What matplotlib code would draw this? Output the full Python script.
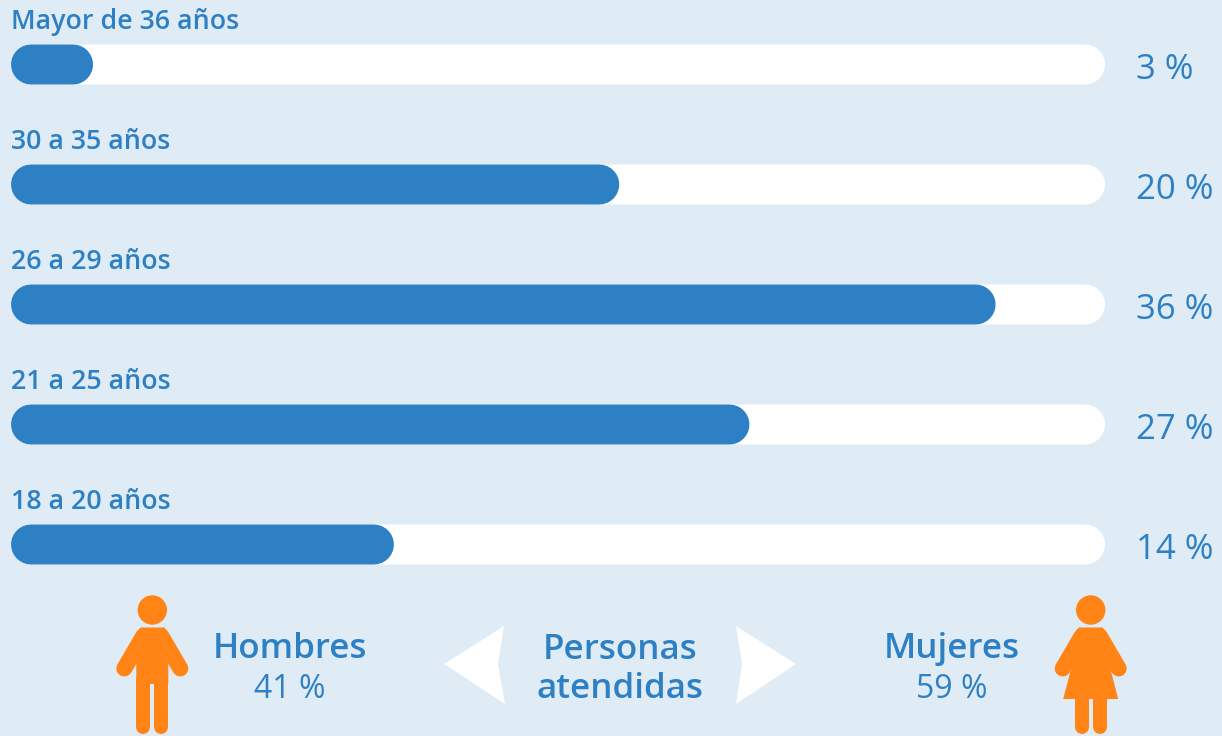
import matplotlib
matplotlib.use("Agg")
import matplotlib.pyplot as plt
from matplotlib.patches import Polygon, Circle

W, H = 1222, 736
BG = "#DFEBF5"; BLUE = "#2E80C4"; ORANGE = "#FF8415"
plt.rcParams['font.family'] = ['Open Sans', 'DejaVu Sans']

age_groups = ["Mayor de 36 años", "30 a 35 años", "26 a 29 años", "21 a 25 años", "18 a 20 años"]
age_percent = [3, 20, 36, 27, 14]
# Bar length as drawn in the source, as a share of the white track (not linear in the labels)
bar_fill = [7.5, 55.6, 90.0, 67.5, 35.0]
gender_labels = ["Hombres", "Mujeres"]
gender_percent = [41, 59]
center_title = "Personas\natendidas"

fig = plt.figure(figsize=(W / 100, H / 100), dpi=100, facecolor=BG)
ax = fig.add_axes([0, 0, 1, 1]); ax.set_xlim(0, W); ax.set_ylim(H, 0); ax.axis("off")

# bars: axes spanning the white track, x in % of track
TX0, TX1 = 11, 1105
bx = fig.add_axes([TX0 / W, 0, (TX1 - TX0) / W, 1]); bx.set_xlim(0, 100); bx.set_ylim(H, 0); bx.axis("off")
bx.patch.set_alpha(0)
BAR_H = 40
lw = BAR_H * 0.72
r = (BAR_H / 2) / (TX1 - TX0) * 100
centers = [64.5, 184.5, 304.5, 424.5, 544.5]
for i, (lab, pct, fill) in enumerate(zip(age_groups, age_percent, bar_fill)):
    y = centers[i]
    bx.plot([r, 100 - r], [y, y], color="white", lw=lw, solid_capstyle="round", clip_on=False, snap=False)
    bx.plot([r, fill - r], [y, y], color=BLUE, lw=lw, solid_capstyle="round", clip_on=False, snap=False)
    ax.text(11, y - 42.5, lab, color=BLUE, fontsize=19.3, fontweight=600, va="center", ha="left")
    ax.text(1136, y + 5.5, f"{pct} %", color=BLUE, fontsize=25, va="center", ha="left")

def person(cx, female=False):
    ax.add_patch(Circle((cx, 610), 14.7, fc=ORANGE, ec="none"))
    k = 0.72
    for s in (-1, 1):
        ax.plot([cx + s * 9, cx + s * 28], [636, 668.5], color=ORANGE, lw=16 * k, solid_capstyle="round")
        ax.plot([cx + s * 9, cx + s * 9], [680, 726.5], color=ORANGE, lw=14 * k, solid_capstyle="round")
    ax.add_patch(Polygon([(cx - 16, 660), (cx - 16, 634), (cx - 12, 627.5), (cx + 12, 627.5),
                          (cx + 16, 634), (cx + 16, 660), (cx + 16, 684), (cx - 16, 684)],
                         closed=True, fc=ORANGE, ec="none"))
    if female:
        ax.add_patch(Polygon([(cx - 16, 655), (cx + 16, 655), (cx + 27.5, 699), (cx - 27.5, 699)],
                             closed=True, fc=ORANGE, ec="none"))

person(152.3)
person(1090.7, female=True)

for x, lab, pct in zip((290, 952), gender_labels, gender_percent):
    ax.text(x, 649, lab, color=BLUE, fontsize=25.2, fontweight=600, ha="center", va="center")
    ax.text(x, 689, f"{pct} %", color=BLUE, fontsize=23, ha="center", va="center")
ax.text(620, 669.5, center_title, color=BLUE, fontsize=25.2, fontweight=600, ha="center", va="center", linespacing=1.17)

ax.add_patch(Polygon([(444, 664), (504, 626), (498, 664), (505, 704)], closed=True, fc="white", ec="none"))
ax.add_patch(Polygon([(796, 664), (736, 626), (742, 664), (736, 704)], closed=True, fc="white", ec="none"))

fig.savefig("out.png", dpi=100, facecolor=BG)
